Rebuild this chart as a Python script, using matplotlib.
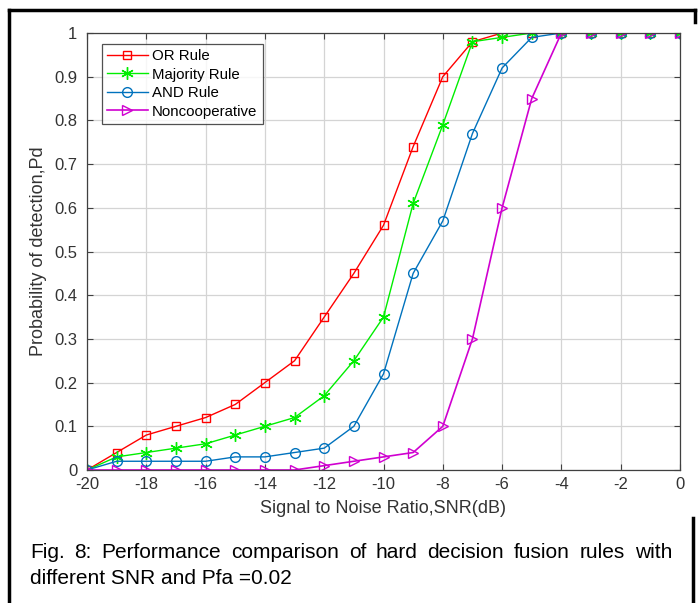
import matplotlib
matplotlib.use("Agg")
import matplotlib.pyplot as plt
from matplotlib.lines import Line2D

plt.rcParams['font.family'] = ['Liberation Sans', 'DejaVu Sans']

snr = [-20, -19, -18, -17, -16, -15, -14, -13, -12, -11, -10, -9, -8, -7, -6, -5, -4, -3, -2, -1, 0]
or_rule = [0, 0.04, 0.08, 0.10, 0.12, 0.15, 0.20, 0.25, 0.35, 0.45, 0.56, 0.74, 0.90, 0.98, 1.0, 1.0, 1.0, 1.0, 1.0, 1.0, 1.0]
majority = [0, 0.03, 0.04, 0.05, 0.06, 0.08, 0.10, 0.12, 0.17, 0.25, 0.35, 0.61, 0.79, 0.98, 0.99, 1.0, 1.0, 1.0, 1.0, 1.0, 1.0]
and_rule = [0, 0.02, 0.02, 0.02, 0.02, 0.03, 0.03, 0.04, 0.05, 0.10, 0.22, 0.45, 0.57, 0.77, 0.92, 0.99, 1.0, 1.0, 1.0, 1.0, 1.0]
noncoop = [0, 0, 0, 0, 0, 0, 0, 0, 0.01, 0.02, 0.03, 0.04, 0.10, 0.30, 0.60, 0.85, 1.0, 1.0, 1.0, 1.0, 1.0]

xticks = [-20, -18, -16, -14, -12, -10, -8, -6, -4, -2, 0]
yticks = [0, 0.1, 0.2, 0.3, 0.4, 0.5, 0.6, 0.7, 0.8, 0.9, 1]
ytick_labels = ['0', '0.1', '0.2', '0.3', '0.4', '0.5', '0.6', '0.7', '0.8', '0.9', '1']
caption_line1 = "Fig. 8: Performance comparison of hard decision fusion rules with"
caption_line2 = "different SNR and Pfa =0.02"

W, H = 698, 603
fig = plt.figure(figsize=(W / 100, H / 100), dpi=100)
fig.patch.set_facecolor('white')

ax = fig.add_axes([87 / W, 1 - 470 / H, (680 - 87) / W, (470 - 33) / H])

axcol = '#404040'
ax.plot(snr, or_rule, color='#FF0000', marker='s', mfc='none', ms=6, lw=1, mew=1, label='OR Rule')
ax.plot(snr, majority, color='#00EE00', marker=(6, 2, 0), mfc='none', ms=9, lw=1, mew=1, label='Majority Rule')
ax.plot(snr, and_rule, color='#0072BD', marker='o', mfc='none', ms=7, lw=1, mew=1, label='AND Rule')
ax.plot(snr, noncoop, color='#D000D0', marker='>', mfc='none', ms=7, lw=1.2, mew=1, label='Noncooperative')

ax.set_xlim(-20, 0)
ax.set_ylim(0, 1)
ax.set_xticks(xticks)
ax.set_xticklabels([str(t) for t in xticks])
ax.set_yticks(yticks)
ax.set_yticklabels(ytick_labels)
ax.grid(True, color='#d4d4d4', lw=0.9)
ax.set_axisbelow(True)
ax.tick_params(direction='in', top=True, right=True, length=4, width=0.8,
               colors=axcol, labelcolor='#333333', labelsize=12)
ax.tick_params(axis='x', pad=5)
ax.tick_params(axis='y', pad=7)
for s in ax.spines.values():
    s.set_color(axcol)
    s.set_linewidth(0.9)
ax.set_xlabel('Signal to Noise Ratio,SNR(dB)', fontsize=13, color='#333333', labelpad=6)
ax.set_ylabel('Probability of detection,Pd', fontsize=13, color='#333333', labelpad=5)

leg = ax.legend(loc='upper left', bbox_to_anchor=(0.025, 0.975), fontsize=10.8, frameon=True,
                fancybox=False, edgecolor='#262626', borderpad=0.35, labelspacing=0.3,
                handlelength=2.7, handletextpad=0.3, borderaxespad=0)
leg.get_frame().set_linewidth(0.9)

# caption, justified first line
fig.canvas.draw()
renderer = fig.canvas.get_renderer()
x0, x1 = 30, 672
y1 = 1 - 553 / H
words = caption_line1.split(' ')
texts = []
widths = []
for w in words:
    t = fig.text(0, y1, w, fontsize=15, color='black', va='center', ha='left')
    bb = t.get_window_extent(renderer)
    texts.append(t)
    widths.append(bb.width)
gap = ((x1 - x0) - sum(widths)) / (len(words) - 1)
xp = x0
for t, wd in zip(texts, widths):
    t.set_x(xp / W)
    xp += wd + gap
fig.text(x0 / W, 1 - 578 / H, caption_line2, fontsize=15, color='black', va='center', ha='left')

# border lines
lw = 2.5
fig.add_artist(Line2D([9 / W, 9 / W], [0, 1 - 10 / H], color='black', lw=lw))
fig.add_artist(Line2D([9 / W, 695 / W], [1 - 10 / H, 1 - 10 / H], color='black', lw=lw))
fig.add_artist(Line2D([695 / W, 695 / W], [1 - 10 / H, 1 - 22 / H], color='black', lw=lw))
fig.add_artist(Line2D([693 / W, 693 / W], [0, 1 - 518 / H], color='black', lw=lw))

fig.savefig('out.png', dpi=100, facecolor='white')
